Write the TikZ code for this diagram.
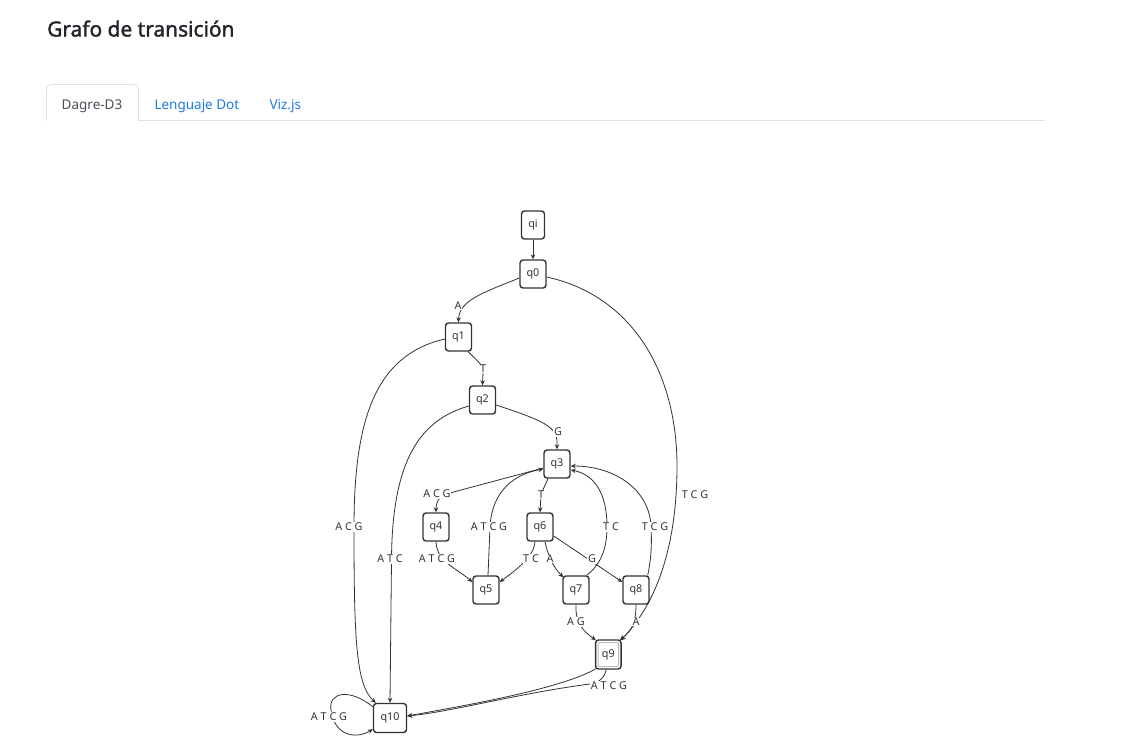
\documentclass[tikz,border=0pt]{standalone}
\usepackage{fontspec}
\setmainfont{Noto Sans}
\newfontfamily\titlefont{Noto Sans}[AutoFakeBold=1.6]
\usetikzlibrary{arrows.meta}
\definecolor{ink}{HTML}{333333}
\definecolor{titlec}{HTML}{212529}
\definecolor{tabtext}{HTML}{495057}
\definecolor{linkc}{HTML}{1E7BE6}
\definecolor{bord}{HTML}{DEE2E6}
\begin{document}
\begin{tikzpicture}[x=1pt,y=-1pt,
  st/.style={draw=ink, line width=1.4pt, rounded corners=3pt, fill=white, minimum width=26pt, minimum height=28pt, inner sep=0pt, font=\fontsize{10.8}{12}\selectfont, text=ink},
  lbl/.style={fill=white, inner sep=0.6pt, font=\fontsize{10.8}{12}\selectfont, text=ink},
  edge/.style={draw=ink, line width=0.8pt, -{Stealth[length=5pt,width=4.5pt]}},
  tabfont/.style={font=\fontsize{13.5}{16}\selectfont, anchor=base west}]
\useasboundingbox[fill=white] (0,0) rectangle (1148,748);

% header
\node[anchor=base west, font=\titlefont\fontsize{20.9}{24}\selectfont\bfseries, text=titlec, inner sep=0pt] (title) at (47,36.5) {Grafo de transición};
\draw[draw=bord, line width=0.9pt, rounded corners=4pt] (46.5,120.5) -- (46.5,84.5) -- (138.5,84.5) -- (138.5,120.5);
\draw[draw=bord, line width=0.9pt] (138.5,120.5) -- (1045,120.5);
\node[tabfont, text=tabtext, inner sep=0pt] (tab1) at (61.5,109) {Dagre-D3};
\node[tabfont, text=linkc, inner sep=0pt] (tab2) at (154.3,109) {Lenguaje Dot};
\node[tabfont, text=linkc, inner sep=0pt] (tab3) at (269.3,109) {Viz.js};

% states
\node[st, minimum width=23pt] (qi) at (533,225) {qi};
\node[st] (q0) at (533,274) {q0};
\node[st] (q1) at (458.5,337) {q1};
\node[st] (q2) at (482.5,400) {q2};
\node[st] (q3) at (557,464) {q3};
\node[st] (q4) at (436,527) {q4};
\node[st] (q6) at (540,527) {q6};
\node[st] (q5) at (486,590) {q5};
\node[st] (q7) at (576,590) {q7};
\node[st] (q8) at (636,590) {q8};
\node[st, minimum height=29pt, minimum width=25.5pt] (q9) at (608.3,654.5) {q9};
\draw[draw=gray!55, line width=0.9pt, rounded corners=1pt] ([xshift=3.2pt,yshift=3.2pt]q9.south west) rectangle ([xshift=-3.2pt,yshift=-3.2pt]q9.north east);
\node[st, minimum width=33pt, minimum height=29pt] (q10) at (390,718) {q10};

% connectors
\draw[edge] (qi) -- (q0);
\draw[edge] ([yshift=-4pt]q0.west) .. controls (485,292) and (459,300) .. (q1.north);
\draw[edge] ([yshift=-3pt]q0.east) .. controls (630,295) and (678,370) .. (677,470) .. controls (676,560) and (650,610) .. ([xshift=-1pt,yshift=-1pt]q9.north east);
\draw[edge] ([xshift=-4pt]q1.south east) .. controls (476,360) and (483,364) .. (483,372) -- (q2.north);
\draw[edge] ([yshift=-2pt]q1.west) .. controls (375,355) and (354,420) .. (354,527) .. controls (354,640) and (356,685) .. ([xshift=3pt]q10.north west);
\draw[edge] ([yshift=-5pt]q2.east) .. controls (535,418) and (556,425) .. (557,440) -- (q3.north);
\draw[edge] ([yshift=-6pt]q2.west) .. controls (420,420) and (392,460) .. (391.5,560) -- (q10.north);
\draw[edge] ([yshift=-4pt]q3.west) -- (446,494) .. controls (438,497) and (436,503) .. (q4.north);
\draw[edge] ([xshift=-9pt]q3.south) -- (541,494) -- (q6.north);
\draw[edge] (q4.south) .. controls (437,562) and (455,567) .. ([yshift=8pt]q5.west);
\draw[edge] ([xshift=2pt]q5.north) -- (490,527) .. controls (492,490) and (515,474) .. ([yshift=-5pt]q3.west);
\draw[edge] ([xshift=-5pt]q6.south) .. controls (534,553) and (526,563) .. ([yshift=8pt]q5.east);
\draw[edge] ([xshift=5pt]q6.south) .. controls (547,552) and (552,566) .. ([xshift=1pt,yshift=-2pt]q7.north west);
\draw[edge] ([yshift=-9pt]q6.east) -- ([yshift=8pt]q8.west);
\draw[edge] ([xshift=-3pt]q7.north east) .. controls (600,565) and (607,550) .. (607,527) .. controls (607,490) and (592,474) .. ([yshift=-6pt]q3.east);
\draw[edge] ([xshift=-2pt]q8.north east) .. controls (651,560) and (652,545) .. (651,527) .. controls (650,490) and (615,466) .. ([yshift=-2pt]q3.east);
\draw[edge] (q7.south) .. controls (575,625) and (585,632) .. ([xshift=1pt,yshift=-1pt]q9.north west);
\draw[edge] (q8.south) .. controls (636,625) and (630,632) .. ([xshift=-2pt,yshift=-1pt]q9.north east);
\draw[edge] ([xshift=1pt,yshift=1pt]q9.south west) .. controls (560,690) and (450,708) .. ([yshift=2pt]q10.east);
\draw[edge] ([xshift=-2pt]q9.south) .. controls (605,676) and (600,683) .. (590,684) .. controls (520,693) and (450,712) .. ([yshift=2pt]q10.east);
\draw[edge] ([yshift=-4pt]q10.north west) .. controls (350,688) and (328,692) .. (331,710) .. controls (334,735) and (355,740) .. ([yshift=4pt]q10.south west);

% edge labels
\node[lbl] (l01) at (458,306) {A};
\node[lbl] (l09) at (695,495) {T C G};
\node[lbl] (l12) at (483,369) {T};
\node[lbl] (l110) at (349,527) {A C G};
\node[lbl] (l23) at (558,432) {G};
\node[lbl] (l210) at (390,559) {A T C};
\node[lbl] (l34) at (437,494) {A C G};
\node[lbl] (l36) at (541,495) {T};
\node[lbl] (l45) at (437,559) {A T C G};
\node[lbl] (l53) at (489,527) {A T C G};
\node[lbl] (l65) at (531,559) {T C};
\node[lbl] (l67) at (550,559) {A};
\node[lbl] (l68) at (592,559) {G};
\node[lbl] (l73) at (611,527) {T C};
\node[lbl] (l83) at (655,527) {T C G};
\node[lbl] (l79) at (576,622) {A G};
\node[lbl] (l89) at (636,622) {A};
\node[lbl] (l910) at (609,686) {A T C G};
\node[lbl] (l1010) at (329,717) {A T C G};
\end{tikzpicture}
\end{document}
